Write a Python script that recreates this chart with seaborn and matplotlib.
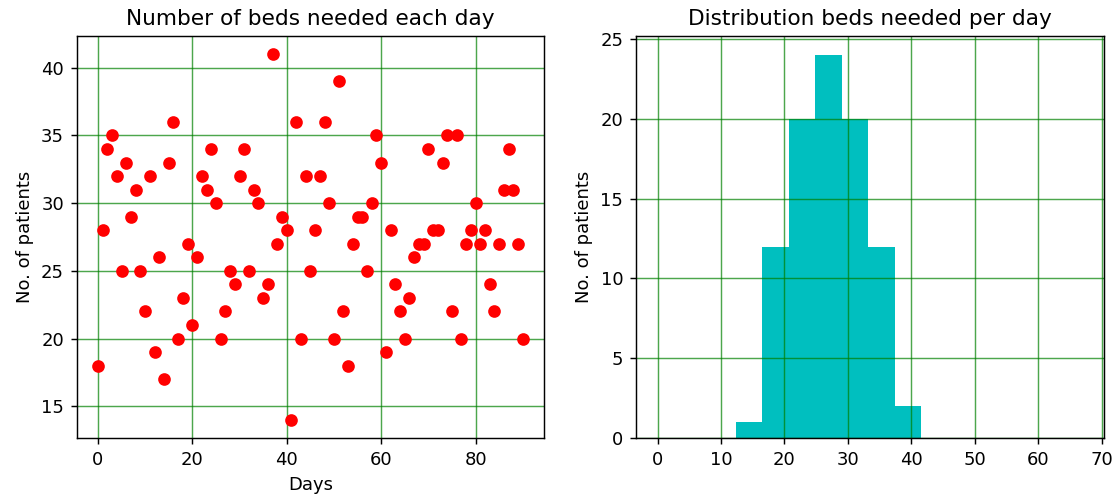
import numpy as np
import matplotlib
matplotlib.use('Agg')
import matplotlib.pyplot as plt
import seaborn as sns

# beds needed on each day (day 0 .. 90)
days = np.arange(91)
beds = [18, 28, 34, 35, 32, 25, 33, 29, 31, 25,
        22, 32, 19, 26, 17, 33, 36, 20, 23, 27,
        21, 26, 32, 31, 34, 30, 20, 22, 25, 24,
        32, 34, 25, 31, 30, 23, 24, 41, 27, 29,
        28, 14, 36, 20, 32, 25, 28, 32, 36, 30,
        20, 39, 22, 18, 27, 29, 29, 25, 30, 35,
        33, 19, 28, 24, 22, 20, 23, 26, 27, 27,
        34, 28, 28, 33, 35, 22, 35, 20, 27, 28,
        30, 27, 28, 24, 22, 27, 31, 34, 31, 27,
        20]

# histogram of beds per day, as drawn in the right panel
hist_edges = [12.34, 16.52, 20.70, 24.88, 29.06, 33.24, 37.42, 41.60]
hist_counts = [1, 12, 20, 24, 20, 12, 2]

plt.rcParams['font.family'] = ['DejaVu Sans']
plt.rcParams['axes.axisbelow'] = 'line'

fig = plt.figure(figsize=(1115 / 130, 496 / 130), dpi=130)
ax1 = fig.add_axes([0.0688, 0.1169, 0.4191, 0.8105])
ax2 = fig.add_axes([0.5704, 0.1169, 0.4193, 0.8105])

# left: beds per day
sns.scatterplot(x=days, y=beds, color='red', s=36, edgecolor='red',
                linewidth=1, zorder=3, ax=ax1)
ax1.set_title('Number of beds needed each day')
ax1.set_xlabel('Days')
ax1.set_ylabel('No. of patients')
ax1.grid(True, color='g', alpha=0.7)

# right: distribution
centers = [(hist_edges[i] + hist_edges[i + 1]) / 2 for i in range(len(hist_counts))]
sns.histplot(x=centers, weights=hist_counts, bins=hist_edges, color='c',
             alpha=1, linewidth=0, ax=ax2)
ax2.set_xlim(-3.4, 70.3)
ax2.set_title('Distribution beds needed per day')
ax2.set_xlabel('')
ax2.set_ylabel('No. of patients')
ax2.grid(True, color='g', alpha=0.7)

fig.savefig('out.png', dpi=130)
